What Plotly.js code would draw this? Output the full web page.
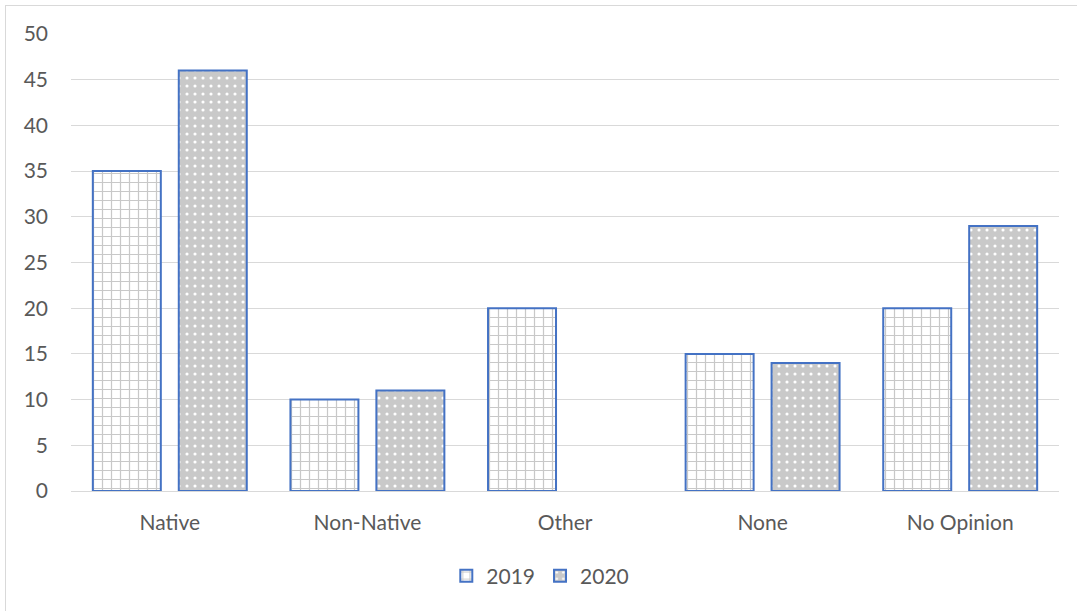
<!DOCTYPE html>
<html><head><meta charset="utf-8">
<script src="https://cdn.plot.ly/plotly-3.0.1.min.js"></script>
<style>
html,body{margin:0;padding:0;background:#fff;overflow:hidden}
#frame{position:absolute;left:5px;top:5px;width:1100px;height:700px;border:1px solid #d9d9d9;box-sizing:border-box;}
#chart{position:absolute;left:0;top:0;width:1077px;height:611px}
</style></head>
<body>
<div id="frame"></div>
<div id="chart"></div>
<script>
const categories = ["Native", "Non-Native", "Other", "None", "No Opinion"];
const values2019 = [35, 10, 20, 15, 20];
const values2020 = [46, 11, null, 14, 29];
const seriesNames = ["2019", "2020"];
const yTicks = [0, 5, 10, 15, 20, 25, 30, 35, 40, 45, 50];

const font = {family: "Lato, 'Open Sans', sans-serif", size: 21, color: "#595959"};

const traces = [
  {
    type: "bar", name: seriesNames[0], x: categories, y: values2019,
    marker: {
      color: "#ffffff",
      line: {color: "#4472c4", width: 2},
      pattern: {shape: "+", fgcolor: "#c8c8c8", bgcolor: "#ffffff", size: 9, solidity: 0.25, fillmode: "replace"}
    }
  },
  {
    type: "bar", name: seriesNames[1], x: categories, y: values2020,
    marker: {
      color: "#c9c9c9",
      line: {color: "#4472c4", width: 2},
      pattern: {shape: ".", fgcolor: "#ffffff", bgcolor: "#c9c9c9", size: 8, solidity: 0.12, fillmode: "replace"}
    }
  }
];

const layout = {
  width: 1077, height: 611,
  margin: {l: 71, r: 18, t: 34, b: 120},
  paper_bgcolor: "rgba(0,0,0,0)", plot_bgcolor: "#ffffff",
  font: font,
  barmode: "group", bargap: 0.13, bargroupgap: 0.209,
  showlegend: true,
  legend: {orientation: "h", x: 0.475, xanchor: "center", y: -0.186, yanchor: "middle", font: font, itemwidth: 30, traceorder: "normal"},
  xaxis: {
    showgrid: false, showline: true, linecolor: "#d9d9d9", linewidth: 1,
    ticks: "", tickfont: font, ticklabelstandoff: 13, fixedrange: true
  },
  yaxis: {
    range: [0, 50], tickvals: yTicks, ticktext: yTicks.map(String),
    showgrid: true, gridcolor: "#d9d9d9", gridwidth: 1, zeroline: false,
    showline: false, ticks: "", tickfont: font, ticklabelstandoff: 22, fixedrange: true
  }
};

Plotly.newPlot("chart", traces, layout, {displayModeBar: false, staticPlot: true});
</script>
</body></html>
